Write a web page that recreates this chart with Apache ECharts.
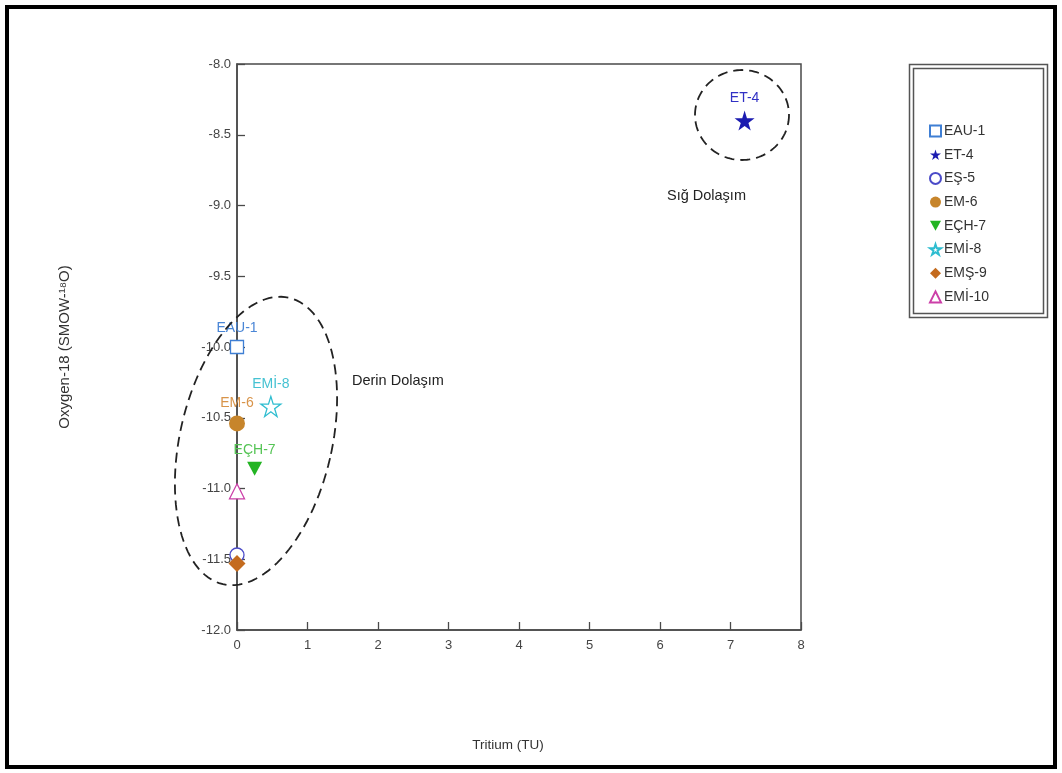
<!DOCTYPE html>
<html><head><meta charset="utf-8">
<script src="https://cdn.jsdelivr.net/npm/echarts@6/dist/echarts.min.js"></script>
<style>html,body{margin:0;padding:0;background:#fff}#c{width:1062px;height:773px}</style>
</head><body><div id="c"></div>
<script>
// Data
const seriesNames = ['EAU-1','ET-4','EŞ-5','EM-6','EÇH-7','EMİ-8','EMŞ-9','EMİ-10'];
const tritium = [0, 7.2, 0, 0, 0.25, 0.48, 0, 0];
const oxygen18 = [-10.0, -8.4, -11.47, -10.54, -10.86, -10.42, -11.53, -11.02];
const showLabel = [true, true, false, true, true, true, false, false];
const xTicks = [0,1,2,3,4,5,6,7,8];
const yTicks = [-12.0,-11.5,-11.0,-10.5,-10.0,-9.5,-9.0,-8.5,-8.0];

const STAR = 'path://M100,0 L122.45,69.1 L195.1,69.1 L136.3,111.8 L158.8,180.9 L100,138.2 L41.2,180.9 L63.7,111.8 L4.9,69.1 L77.55,69.1 Z';
const TRI_DOWN = 'path://M0,0 L100,0 L50,90 Z';
const styles = [
  {symbol:'rect', size:13, color:'#fff', border:'#3f7fd4', label:'#4a86d6'},
  {symbol:STAR, size:20, color:'#1c1cb0', border:'#1c1cb0', label:'#3030c4'},
  {symbol:'circle', size:14, color:'#fff', border:'#4b4bc8', label:'#4b4bc8'},
  {symbol:'circle', size:16, color:'#c7852b', border:'#c7852b', label:'#d8944a'},
  {symbol:TRI_DOWN, size:[15,14], color:'#23b423', border:'#23b423', label:'#55c455'},
  {symbol:STAR, size:20, color:'#fff', border:'#2fbdd0', label:'#45c2d2'},
  {symbol:'diamond', size:17, color:'#c46b1e', border:'#c46b1e', label:'#c46b1e'},
  {symbol:'triangle', size:15, color:'#fff', border:'#cc3fa8', label:'#cc3fa8'}
];

const FONT = '"Liberation Sans", Arial, sans-serif';
const chart = echarts.init(document.getElementById('c'), null, {renderer:'canvas'});

const series = seriesNames.map((n,i)=>({
  name:n, type:'scatter',
  data:[[tritium[i], oxygen18[i]]],
  symbol: styles[i].symbol,
  symbolSize: styles[i].size,
  itemStyle:{color:styles[i].color, borderColor:styles[i].border, borderWidth: styles[i].color==='#fff'?1.3:0, opacity:1},
  label:{show:showLabel[i], position:'top', distance:5, color:styles[i].label, fontFamily:FONT, fontSize:14, formatter:n},
  emphasis:{disabled:true},
  z: 3+i
}));

// ellipse polygon helper (annotation, pixel space)
function ellipsePts(cx, cy, a, b, rotDeg){
  const pts=[]; const t=rotDeg*Math.PI/180;
  for(let k=0;k<=120;k++){
    const th=k/120*2*Math.PI;
    const x=b*Math.cos(th), y=a*Math.sin(th);
    pts.push([cx + x*Math.cos(t) - y*Math.sin(t), cy + x*Math.sin(t) + y*Math.cos(t)]);
  }
  return pts;
}

chart.setOption({
  animation:false,
  backgroundColor:'#fff',
  textStyle:{fontFamily:FONT},
  grid:{left:237, right:261, top:64, bottom:143, show:true, borderColor:'#4a4a4a', borderWidth:1.5, backgroundColor:'transparent'},
  xAxis:{
    type:'value', min:0, max:8, interval:1,
    name:'Tritium (TU)', nameLocation:'middle', nameGap:108,
    nameTextStyle:{fontFamily:FONT, fontSize:13.5, color:'#333', padding:[0,22,0,0]},
    axisLine:{show:true, onZero:false, lineStyle:{color:'#4a4a4a', width:1.5}},
    axisTick:{show:true, inside:true, length:8, lineStyle:{color:'#4a4a4a', width:1.3}},
    axisLabel:{fontFamily:FONT, fontSize:13, color:'#444', margin:9, formatter:v=>xTicks.includes(v)?String(v):''},
    splitLine:{show:false}
  },
  yAxis:{
    type:'value', min:-12, max:-8, interval:0.5,
    name:'Oxygen-18 (SMOW-¹⁸O)', nameLocation:'middle', nameGap:165, nameRotate:90,
    nameTextStyle:{fontFamily:FONT, fontSize:15, color:'#333'},
    axisLine:{show:true, onZero:false, lineStyle:{color:'#4a4a4a', width:1.5}},
    axisTick:{show:true, inside:true, length:8, lineStyle:{color:'#4a4a4a', width:1.3}},
    axisLabel:{fontFamily:FONT, fontSize:13, color:'#444', margin:6, formatter:v=>v.toFixed(1)},
    splitLine:{show:false}
  },
  legend:{
    orient:'vertical', left:924, top:119, itemGap:9.7, itemWidth:11, itemHeight:11,
    textStyle:{fontFamily:FONT, fontSize:14, color:'#333', padding:[0,0,0,-2]},
    data:seriesNames
  },
  series: series,
  graphic:[
    {type:'rect', shape:{x:7, y:7, width:1048, height:760}, style:{fill:'none', stroke:'#000', lineWidth:4}, silent:true},
    {type:'rect', shape:{x:909.5, y:64.5, width:138, height:253}, style:{fill:'none', stroke:'#555', lineWidth:1.5}, silent:true},
    {type:'rect', shape:{x:913.5, y:68.5, width:130, height:245}, style:{fill:'none', stroke:'#555', lineWidth:1.5}, silent:true},
    {type:'polyline', shape:{points:ellipsePts(256, 441, 147, 76, 13)}, style:{fill:'none', stroke:'#222', lineWidth:1.8, lineDash:[10,6]}, silent:true, z:10},
    {type:'polyline', shape:{points:ellipsePts(742, 115, 45, 47, 0)}, style:{fill:'none', stroke:'#222', lineWidth:1.8, lineDash:[10,6]}, silent:true, z:10},
    {type:'text', left:352, top:373, style:{text:'Derin Dolaşım', font:'14.5px "Liberation Sans", Arial, sans-serif', fill:'#222'}, silent:true},
    {type:'text', left:667, top:188, style:{text:'Sığ Dolaşım', font:'14.5px "Liberation Sans", Arial, sans-serif', fill:'#222'}, silent:true}
  ]
});
</script></body></html>
